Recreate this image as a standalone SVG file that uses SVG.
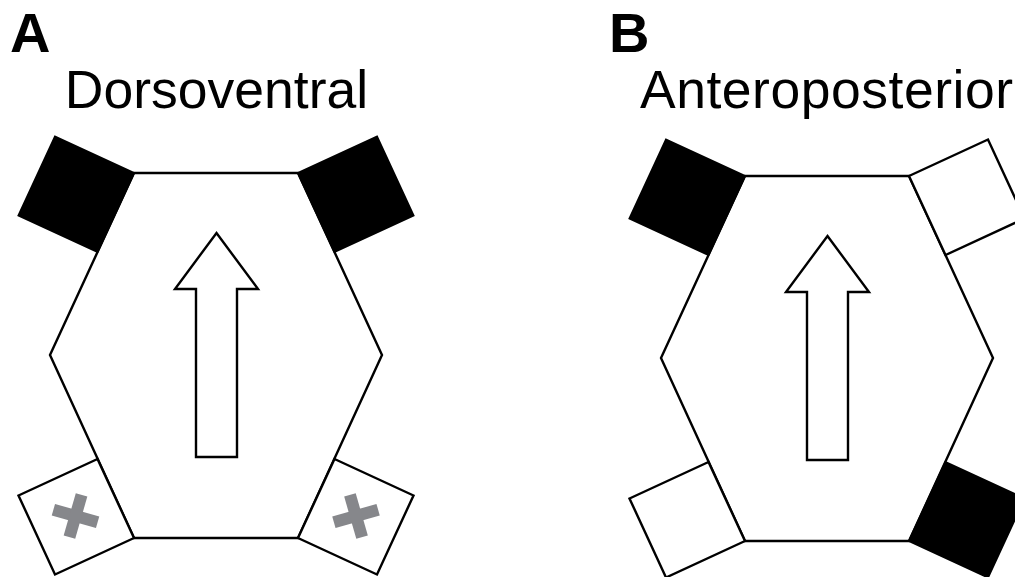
<svg xmlns="http://www.w3.org/2000/svg" width="1015" height="577" viewBox="0 0 1015 577">
<style>
.lbl{font-family:"Liberation Sans",Arial,sans-serif;font-weight:bold;font-size:56px;fill:#000}
.ttl{font-family:"Liberation Sans",Arial,sans-serif;font-size:53.5px;fill:#000}
.hex{fill:#fff;stroke:#000;stroke-width:2.4;stroke-linejoin:miter}
.arr{fill:#fff;stroke:#000;stroke-width:2.4}
.blk{fill:#000;stroke:#000;stroke-width:2}
.wht{fill:#fff;stroke:#000;stroke-width:2.4}
.x{fill:#86878b}
</style>
<defs>
<g id="cell">
<polygon class="hex" points="134,173 298,173 382,355 298,538 134,538 50,355"/>
<polygon class="arr" points="216.5,233 258,289 237,289 237,457 196,457 196,289 175,289"/>
</g>
<polygon id="sqTL" points="134,173 97.5,252 18.5,215.5 55,136.5"/>
<polygon id="sqTR" points="298,173 334.5,252 413.5,215.5 377,136.5"/>
<polygon id="sqBL" points="134,538 97.5,459 18.5,495.5 55,574.5"/>
<polygon id="sqBR" points="298,538 334.5,459 413.5,495.5 377,574.5"/>
<g id="cross">
<rect x="-23" y="-6" width="46" height="12"/>
<rect x="-6" y="-22" width="12" height="44"/>
</g>
</defs>
<rect width="1015" height="577" fill="#fff"/>
<g id="panelA">
<text class="lbl" x="10" y="52">A</text>
<text class="ttl" x="216.5" y="108" text-anchor="middle">Dorsoventral</text>
<g id="cellA"><use href="#cell"/></g>
<g id="A_topleft"><use href="#sqTL" class="blk"/></g>
<g id="A_topright"><use href="#sqTR" class="blk"/></g>
<g id="A_bottomleft"><use href="#sqBL" class="wht"/><use href="#cross" class="x" transform="translate(75.5,516) rotate(16)"/></g>
<g id="A_bottomright"><use href="#sqBR" class="wht"/><use href="#cross" class="x" transform="translate(356,516) rotate(-16)"/></g>
</g>
<g id="panelB">
<text class="lbl" x="609" y="52">B</text>
<text class="ttl" x="640" y="108" textLength="373" lengthAdjust="spacing">Anteroposterior</text>
<g transform="translate(611,3)">
<g id="cellB"><use href="#cell"/></g>
<g id="B_topleft"><use href="#sqTL" class="blk"/></g>
<g id="B_topright"><use href="#sqTR" class="wht"/></g>
<g id="B_bottomleft"><use href="#sqBL" class="wht"/></g>
<g id="B_bottomright"><use href="#sqBR" class="blk"/></g>
</g>
</g>
</svg>
